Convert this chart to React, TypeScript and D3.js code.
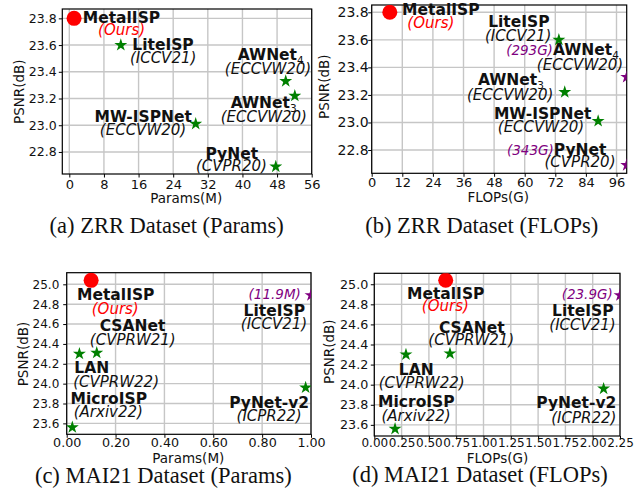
import React, { useEffect, useRef } from "react";
import * as d3 from "d3";

// ZRR dataset
const zrrMethods = ["MetalISP", "LiteISP", "AWNet_4", "AWNet_3", "MW-ISPNet", "PyNet"];
const zrrVenues = ["(Ours)", "(ICCV21)", "(ECCVW20)", "(ECCVW20)", "(ECCVW20)", "(CVPR20)"];
const zrrPsnr = [23.8, 23.6, 23.33, 23.22, 23.01, 22.69];
const zrrParams = [1.1, 11.9, 50.0, 52.1, 29.2, 47.7];
const zrrFlops = [7.1, 73.4, 293, 75.7, 88.8, 343];

// MAI21 dataset
const maiMethods = ["MetalISP", "LiteISP", "CSANet", "LAN", "MicroISP", "PyNet-v2"];
const maiVenues = ["(Ours)", "(ICCV21)", "(CVPRW21)", "(CVPRW22)", "(Arxiv22)", "(ICPR22)"];
const maiPsnr = [25.04, 24.89, 24.31, 24.3, 23.56, 23.96];
const maiParams = [0.1, 11.9, 0.123, 0.052, 0.023, 0.978];
const maiFlops = [0.654, 23.9, 0.693, 0.29, 0.19, 2.1];

// tick values
const zrrPsnrTicks = [22.8, 23.0, 23.2, 23.4, 23.6, 23.8];
const maiPsnrTicks = [23.6, 23.8, 24.0, 24.2, 24.4, 24.6, 24.8, 25.0];
const zrrParamTicks = [0, 8, 16, 24, 32, 40, 48, 56];
const zrrFlopTicks = [0, 12, 24, 36, 48, 60, 72, 84, 96];
const maiParamTicks = [0, 0.2, 0.4, 0.6, 0.8, 1.0];
const maiFlopTicks = [0, 0.25, 0.5, 0.75, 1.0, 1.25, 1.5, 1.75, 2.0, 2.25];

const FONT = "'DejaVu Sans', sans-serif";
const SERIF = "'Liberation Serif', 'DejaVu Serif', serif";
const GREEN = "#008000";
const PURPLE = "#800080";
const RED = "#ff0000";

// label placement, pixel offsets from each marker: [dx, dy] per text line
const labelsA: Record<string, number[][]> = {
  "MetalISP": [[47.4, 5], [47.5, 16.4]],
  "LiteISP": [[42.2, 5.3], [42.3, 17.7]],
  "AWNet_4": [[-15, -20.7], [-17.7, -7.3]],
  "AWNet_3": [[-31.2, 12.3], [-31, 25.7]],
  "MW-ISPNet": [[-52.5, -1.6], [-52.7, 10.7]],
  "PyNet": [[-44, -7.4], [-44.3, 4.3]],
};
const labelsB: Record<string, number[][]> = {
  "MetalISP": [[51, 2.7], [41, 16]],
  "LiteISP": [[-40, -12.6], [-40.7, 0.7]],
  "AWNet_4": [[-64.2, -21.9], [-46.7, -6.9]],
  "AWNet_3": [[-53.8, -7.2], [-54.6, 7.8]],
  "MW-ISPNet": [[-55.5, -2.6], [-57.2, 10.8]],
  "PyNet": [[-70, -9.9], [-46.7, 1.8]],
};
const labelsC: Record<string, number[][]> = {
  "MetalISP": [[24.6, 20], [24.1, 33.3]],
  "LiteISP": [[-36.3, 3.4], [-36.7, 20.7], [-37, 34]],
  "CSANet": [[35.8, -22.3], [36, -8.3]],
  "LAN": [[12.4, 19.3], [36.7, 33.3]],
  "MicroISP": [[36.5, -23.4], [36, -10]],
  "PyNet-v2": [[-36.5, 20], [-36.5, 33.3]],
};
const labelsD: Record<string, number[][]> = {
  "MetalISP": [[0, 19], [-0.4, 30.7]],
  "LiteISP": [[-32.8, 4], [-37.2, 20.7], [-37.5, 35]],
  "CSANet": [[21.8, -21], [21.3, -8.4]],
  "LAN": [[10.3, 20], [15.7, 33.4]],
  "MicroISP": [[21.3, -22.3], [21, -8.3]],
  "PyNet-v2": [[-27.3, 19.7], [-19.8, 34.7]],
};

const panels = [
  {
    box: { left: 62.3, right: 311.7, top: 9, bottom: 174 },
    xDomain: [-1.62, 56], yDomain: [22.635, 23.87],
    names: zrrMethods, venues: zrrVenues, xs: zrrParams, ys: zrrPsnr, unit: "M",
    xTicks: zrrParamTicks, yTicks: zrrPsnrTicks, xFmt: d3.format("d"),
    xTickFont: 13, yTickFont: 12.5, xTickY: 15, yTickGap: 5.6,
    xLabel: "Params(M)", xLabelPos: [186.2, 202.7], yLabelPos: [23.5, 91.7],
    caption: "(a) ZRR Dataset (Params)", captionPos: [166.7, 233.3],
    labels: labelsA, costInline: true,
  },
  {
    box: { left: 371.7, right: 626.7, top: 5, bottom: 173.3 },
    xDomain: [0, 100], yDomain: [22.631, 23.853],
    names: zrrMethods, venues: zrrVenues, xs: zrrFlops, ys: zrrPsnr, unit: "G",
    xTicks: zrrFlopTicks, yTicks: zrrPsnrTicks, xFmt: d3.format("d"),
    xTickFont: 13, yTickFont: 14, xTickY: 13.4, yTickGap: 3,
    xLabel: "FLOPs(G)", xLabelPos: [498.3, 201.7], yLabelPos: [328.5, 86.7],
    caption: "(b) ZRR Dataset (FLOPs)", captionPos: [481.7, 233],
    labels: labelsB, costInline: true,
  },
  {
    box: { left: 66.7, right: 311, top: 272.7, bottom: 434.3 },
    xDomain: [0, 1], yDomain: [23.49, 25.117],
    names: maiMethods, venues: maiVenues, xs: maiParams, ys: maiPsnr, unit: "M",
    xTicks: maiParamTicks, yTicks: maiPsnrTicks, xFmt: d3.format(".2f"),
    xTickFont: 12.7, yTickFont: 12, xTickY: 12.4, yTickGap: 7.4,
    xLabel: "Params(M)", xLabelPos: [188.3, 462.7], yLabelPos: [28, 354],
    caption: "(c) MAI21 Dataset (Params)", captionPos: [163.3, 483],
    labels: labelsC, costInline: false,
  },
  {
    box: { left: 374.3, right: 620, top: 273.3, bottom: 436 },
    xDomain: [0, 2.25], yDomain: [23.489, 25.109],
    names: maiMethods, venues: maiVenues, xs: maiFlops, ys: maiPsnr, unit: "G",
    xTicks: maiFlopTicks, yTicks: maiPsnrTicks, xFmt: d3.format(".2f"),
    xTickFont: 12, yTickFont: 12.7, xTickY: 10.7, yTickGap: 6,
    xLabel: "FLOPs(G)", xLabelPos: [497.5, 462.7], yLabelPos: [334, 351.7],
    caption: "(d) MAI21 Dataset (FLOPs)", captionPos: [480, 482],
    labels: labelsD, costInline: false,
  },
];

function nameText(sel: any, name: string) {
  const [base, sub] = name.split("_");
  sel.append("tspan").attr("font-weight", "bold").attr("font-size", 15.5).text(base);
  if (sub) {
    sel.append("tspan").attr("font-weight", "normal").attr("font-size", 10.5).attr("dy", 4).text(sub);
  }
}

function drawPanel(root: any, p: any, idx: number) {
  const { left, right, top, bottom } = p.box;
  const x = d3.scaleLinear().domain(p.xDomain).range([left, right]);
  const y = d3.scaleLinear().domain(p.yDomain).range([bottom, top]);
  const g = root.append("g").attr("font-family", FONT);

  const clipId = "clip-" + idx;
  g.append("clipPath").attr("id", clipId)
    .append("rect")
    .attr("x", left).attr("y", top)
    .attr("width", right - left).attr("height", bottom - top);

  // grid
  const grid = g.append("g").attr("stroke", "#c6c6c6").attr("stroke-width", 1.4);
  grid.selectAll(".gx").data(p.xTicks).join("line")
    .attr("x1", (d: number) => x(d)).attr("x2", (d: number) => x(d))
    .attr("y1", top).attr("y2", bottom);
  grid.selectAll(".gy").data(p.yTicks).join("line")
    .attr("x1", left).attr("x2", right)
    .attr("y1", (d: number) => y(d)).attr("y2", (d: number) => y(d));

  // axes
  const xAxis = g.append("g")
    .attr("transform", `translate(0,${bottom})`)
    .call(d3.axisBottom(x).tickValues(p.xTicks).tickSizeInner(3.5).tickSizeOuter(0).tickFormat(p.xFmt));
  xAxis.select(".domain").remove();
  xAxis.attr("font-family", FONT).attr("font-size", p.xTickFont);
  xAxis.selectAll("line").attr("stroke", "#000").attr("stroke-width", 1);
  xAxis.selectAll("text").attr("dy", null).attr("y", p.xTickY).attr("fill", "#111");

  const yAxis = g.append("g")
    .attr("transform", `translate(${left},0)`)
    .call(d3.axisLeft(y).tickValues(p.yTicks).tickSizeInner(3.5).tickSizeOuter(0).tickFormat(d3.format(".1f")));
  yAxis.select(".domain").remove();
  yAxis.attr("font-family", FONT).attr("font-size", p.yTickFont);
  yAxis.selectAll("line").attr("stroke", "#000").attr("stroke-width", 1);
  yAxis.selectAll("text").attr("x", -p.yTickGap).attr("fill", "#111");

  // frame
  g.append("rect")
    .attr("x", left).attr("y", top)
    .attr("width", right - left).attr("height", bottom - top)
    .attr("fill", "none").attr("stroke", "#000").attr("stroke-width", 1.2);

  // axis titles
  g.append("text")
    .attr("x", p.xLabelPos[0]).attr("y", p.xLabelPos[1])
    .attr("text-anchor", "middle").attr("font-size", 13.5).attr("fill", "#111")
    .text(p.xLabel);
  g.append("text")
    .attr("transform", `translate(${p.yLabelPos[0]},${p.yLabelPos[1]}) rotate(-90)`)
    .attr("text-anchor", "middle").attr("font-size", 13.5).attr("fill", "#111")
    .text("PSNR(dB)");

  // markers
  const pts = p.names.map((name: string, i: number) => {
    const v = p.xs[i];
    const over = v > p.xDomain[1];
    return {
      name, venue: p.venues[i], v, over,
      cx: x(Math.min(v, p.xDomain[1])), cy: y(p.ys[i]),
    };
  });

  const marks = g.append("g").attr("clip-path", `url(#${clipId})`);
  const star = d3.symbol().type(d3.symbolStar).size(52);
  pts.forEach((d: any) => {
    if (d.venue === "(Ours)") {
      marks.append("circle").attr("cx", d.cx).attr("cy", d.cy).attr("r", 7.5).attr("fill", RED);
    } else {
      marks.append("path")
        .attr("d", star())
        .attr("transform", `translate(${d.cx},${d.cy})`)
        .attr("fill", d.over ? PURPLE : GREEN);
    }
  });

  // labels
  const lab = g.append("g").attr("text-anchor", "middle").attr("fill", "#111");
  pts.forEach((d: any) => {
    const off = p.labels[d.name];
    const cost = `(${d.v}${p.unit})`;
    let k = 0;
    if (d.over && !p.costInline) {
      lab.append("text")
        .attr("x", d.cx + off[k][0]).attr("y", d.cy + off[k][1])
        .attr("font-size", 13.5).attr("font-style", "italic").attr("fill", PURPLE)
        .text(cost);
      k++;
    }
    const t1 = lab.append("text").attr("x", d.cx + off[k][0]).attr("y", d.cy + off[k][1]);
    if (d.over && p.costInline) {
      t1.append("tspan").attr("font-size", 13.5).attr("font-style", "italic").attr("fill", PURPLE).text(cost);
    }
    nameText(t1, d.name);
    k++;
    lab.append("text")
      .attr("x", d.cx + off[k][0]).attr("y", d.cy + off[k][1])
      .attr("font-size", 15).attr("font-style", "italic")
      .attr("fill", d.venue === "(Ours)" ? RED : "#111")
      .text(d.venue);
  });

  // caption
  root.append("text")
    .attr("x", p.captionPos[0]).attr("y", p.captionPos[1])
    .attr("text-anchor", "middle").attr("font-family", SERIF).attr("font-size", 22.5).attr("fill", "#111")
    .text(p.caption);
}

export default function App() {
  const ref = useRef<SVGSVGElement>(null);

  useEffect(() => {
    const svg = d3.select(ref.current);
    svg.selectAll("*").remove();
    svg.append("rect").attr("width", 642).attr("height", 502).attr("fill", "#fff");
    panels.forEach((p, i) => drawPanel(svg, p, i));
  }, []);

  return (
    <svg
      ref={ref}
      width={642}
      height={502}
      style={{ position: "absolute", left: 0, top: 0, display: "block" }}
    />
  );
}
